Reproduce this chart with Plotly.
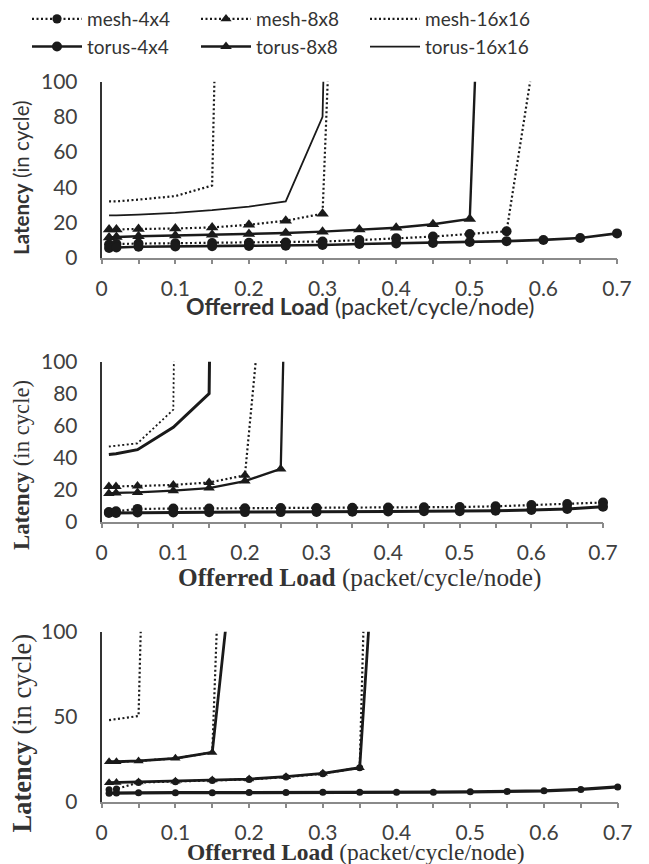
import plotly.graph_objects as go

# ---------------- data ----------------
loads = [0.01, 0.02, 0.05, 0.1, 0.15, 0.2, 0.25, 0.3, 0.35, 0.4, 0.45, 0.5, 0.55, 0.6, 0.65, 0.7]
series_names = ["mesh-4x4", "mesh-8x8", "mesh-16x16", "torus-4x4", "torus-8x8", "torus-16x16"]

# Panel 1
p1_mesh_4x4 = [7.5, 7.8, 8, 8.2, 8.3, 8.5, 8.7, 9.2, 10, 11, 12, 13.5, 15, 148]
p1_mesh_8x8 = [16, 16, 16.3, 16.6, 17.2, 18.7, 21, 25, 560]
p1_mesh_16x16 = [32, 32, 33, 35, 41, 1000]
p1_torus_4x4 = [5.5, 5.8, 6.2, 6.4, 6.5, 6.6, 6.8, 7.2, 7.8, 8.1, 8.4, 8.9, 9.4, 10.1, 11.2, 13.8]
p1_torus_8x8 = [11.5, 11.8, 12.2, 12.6, 13, 13.4, 14, 14.8, 16, 17, 19, 22, 577]
p1_torus_16x16 = [24, 24, 24.5, 25.5, 27, 29, 32, 80, 1000]

# Panel 2
p2_mesh_4x4 = [6, 6.5, 8, 8.2, 8.3, 8.4, 8.5, 8.6, 8.7, 8.8, 9, 9.2, 9.6, 10.4, 11, 12]
p2_mesh_8x8 = [22, 22, 22.3, 23, 24.5, 29, 265]
p2_mesh_16x16 = [47, 47.5, 49, 70, 2000]
p2_torus_4x4 = [5.5, 5.5, 5.7, 5.8, 5.9, 6, 6, 6.1, 6.2, 6.4, 6.5, 6.6, 6.9, 7.3, 8, 9.3]
p2_torus_8x8 = [17.7, 18, 18.3, 19.4, 21, 25.4, 33, 1000]
p2_torus_16x16 = [42, 42.5, 45, 59, 80, 2000]

# Panel 3
p3_mesh_4x4 = [7, 7.5, 11.3, 11.8, 12.5, 13.1, 14.5, 16.5, 20, 820]
p3_mesh_8x8 = [23.5, 23.5, 24, 25.5, 29, 620]
p3_mesh_16x16 = [48, 48.5, 50.4, 900]
p3_torus_4x4 = [5, 5.1, 5.2, 5.3, 5.3, 5.4, 5.4, 5.5, 5.5, 5.5, 5.6, 5.8, 6, 6.4, 7.2, 8.7]
p3_torus_8x8 = [11.2, 11.3, 11.6, 12, 12.7, 13.3, 14.7, 16.7, 20, 355]
p3_torus_16x16 = [23.5, 23.5, 24, 25.5, 29, 230]

y_ticks_12 = [0, 20, 40, 60, 80, 100]
y_ticks_3 = [0, 50, 100]
x_ticks = [0, 0.1, 0.2, 0.3, 0.4, 0.5, 0.6, 0.7]

# ---------------- style ----------------
INK = "#1a1a1a"
DOT = "2px,2.5px"
W, H = 649, 864


def px(x):
    return x / W


def py(y):
    return 1 - y / H


panels = [
    dict(data=[p1_mesh_4x4, p1_mesh_8x8, p1_mesh_16x16, p1_torus_4x4, p1_torus_8x8, p1_torus_16x16],
         widths=[2.2, 2.2, 2.2, 2.6, 2.4, 1.8], msize=(10, 11),
         xdom=(101.7, 617.0), ydom=(81.7, 257.7), yticks=y_ticks_12),
    dict(data=[p2_mesh_4x4, p2_mesh_8x8, p2_mesh_16x16, p2_torus_4x4, p2_torus_8x8, p2_torus_16x16],
         widths=[2.2, 2.2, 1.8, 3.0, 2.3, 3.0], msize=(10, 10),
         xdom=(101.7, 603.0), ydom=(361.7, 521.7), yticks=y_ticks_12),
    dict(data=[p3_mesh_4x4, p3_mesh_8x8, p3_mesh_16x16, p3_torus_4x4, p3_torus_8x8, p3_torus_16x16],
         widths=[2.2, 2.2, 2.2, 3.2, 2.8, 2.8], msize=(7, 9),
         xdom=(101.7, 617.7), ydom=(631.7, 801.7), yticks=y_ticks_3),
]
symbols = ["circle", "triangle-up", None, "circle", "triangle-up", None]
dashes = [DOT, DOT, DOT, "solid", "solid", "solid"]

fig = go.Figure()
for pi, p in enumerate(panels):
    xa = "x" if pi == 0 else f"x{pi + 1}"
    ya = "y" if pi == 0 else f"y{pi + 1}"
    order = [2, 5, 1, 4, 0, 3]
    for si in order:
        vals = p["data"][si]
        xs = loads[:len(vals)]
        sym = symbols[si]
        msz = p["msize"][0] if sym == "circle" else p["msize"][1]
        sizes = [msz if v <= 100 else 0 for v in vals]
        fig.add_trace(go.Scatter(
            x=xs, y=vals, xaxis=xa, yaxis=ya,
            name=series_names[si], legendrank=si + 1,
            mode="lines+markers" if sym else "lines",
            line=dict(color=INK, width=p["widths"][si], dash=dashes[si]),
            marker=dict(symbol=sym or "circle", size=sizes, color=INK, opacity=1, line=dict(width=0)),
            cliponaxis=False,
            showlegend=(pi == 0),
            hoverinfo="skip",
        ))

tickfont = dict(family="Lato", size=21, color="#404040")
legfont = dict(family="Lato", size=19, color="#333333")

layout = dict(
    width=W, height=H,
    margin=dict(l=0, r=0, t=0, b=0, autoexpand=False),
    paper_bgcolor="white", plot_bgcolor="white",
    showlegend=True,
    legend=dict(orientation="h", xref="container", yref="container",
                x=px(27), y=1.0, xanchor="left", yanchor="top",
                entrywidth=104, entrywidthmode="pixels", itemwidth=50,
                font=legfont, bgcolor="rgba(0,0,0,0)", borderwidth=0, traceorder="normal"),
)
for pi, p in enumerate(panels):
    xk = "xaxis" if pi == 0 else f"xaxis{pi + 1}"
    yk = "yaxis" if pi == 0 else f"yaxis{pi + 1}"
    xa = "x" if pi == 0 else f"x{pi + 1}"
    ya = "y" if pi == 0 else f"y{pi + 1}"
    x0, x1 = p["xdom"]
    yt, yb = p["ydom"]
    layout[xk] = dict(domain=[px(x0), px(x1)], anchor=ya, range=[0, 0.7],
                      tickvals=x_ticks, ticktext=[f"{v:g}" for v in x_ticks],
                      ticks="outside", ticklen=5, tickwidth=1.5, tickcolor="#8a8a8a",
                      minor=dict(dtick=0.05, tick0=0, ticks="outside", ticklen=5, tickwidth=1.5, tickcolor="#8a8a8a"),
                      showline=True, linecolor="#8a8a8a", linewidth=1.5,
                      showgrid=False, zeroline=False, tickfont=tickfont, ticklabelstandoff=6,
                      automargin=False)
    layout[yk] = dict(domain=[py(yb), py(yt)], anchor=xa, range=[0, 100],
                      tickvals=p["yticks"], ticks="", showline=True, linecolor="#333333", linewidth=2,
                      showgrid=False, zeroline=False, tickfont=tickfont, ticklabelstandoff=18,
                      automargin=False)
fig.update_layout(**layout)

# axis titles
sans = "Lato"
serif = "Liberation Serif"
titles = [
    (360, 306, "<b>Offerred Load</b> (packet/cycle/node)", sans, 23, 0),
    (21, 178, "<b>Latency</b> (in cycle)", sans, 20.5, -90),
    (359, 577, "<b>Offerred Load</b> (packet/cycle/node)", serif, 25.3, 0),
    (21, 465, "<b>Latency</b> (in cycle)", serif, 22.7, -90),
    (356, 852, "<b>Offerred Load</b> (packet/cycle/node)", serif, 23.5, 0),
    (21.5, 733, "<b>Latency</b> (in cycle)", serif, 26.5, -90),
]
for cx, cy, txt, fam, sz, ang in titles:
    fig.add_annotation(x=px(cx), y=py(cy), xref="paper", yref="paper",
                       text=txt, showarrow=False, textangle=ang,
                       xanchor="center", yanchor="middle",
                       font=dict(family=fam, size=sz, color="#333333"))

fig.write_html("out.html", config={"displayModeBar": False},
               post_script="document.body.style.margin='0px';")
